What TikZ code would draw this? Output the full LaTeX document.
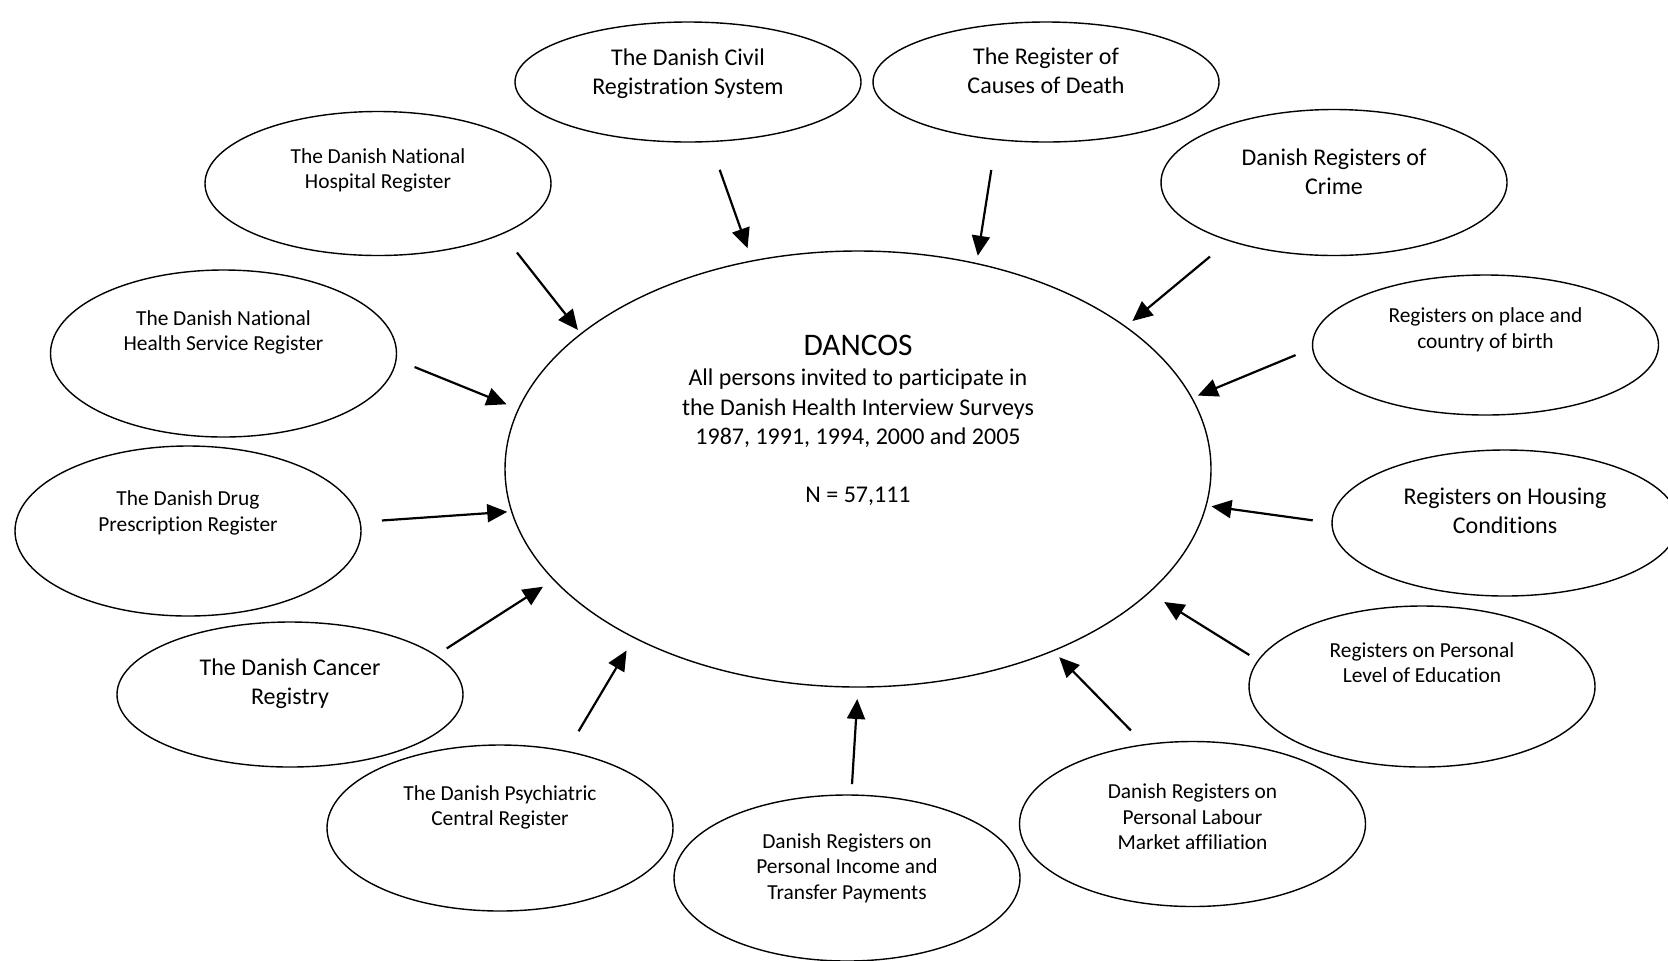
\documentclass[tikz,border=0pt]{standalone}
\usepackage{fontspec}
\setmainfont{Carlito}[Ligatures=NoCommon]
\usetikzlibrary{shapes.geometric,arrows.meta}

\newcommand{\smalltxt}{\fontsize{10.7}{12.8}\selectfont}
\newcommand{\bigtxt}{\fontsize{12}{14.4}\selectfont}

\begin{document}
\begin{tikzpicture}[x=0.5pt,y=-0.5pt,
  reg/.style={ellipse, draw, line width=0.7pt, inner sep=0pt, outer sep=0pt, minimum width=173pt},
  txt/.style={align=center, inner sep=0pt},
  arr/.style={line width=1.1pt, -{Triangle[length=10pt,width=9pt]}}]
\clip (0,0) rectangle (1668,960);

\node[reg, minimum width=353pt, minimum height=218pt,
  label={[txt, font=\fontsize{12}{14.6}\selectfont, yshift=24.25pt]center:{\fontsize{15.7}{16}\selectfont DANCOS}\\[0.5pt]
  All persons invited to participate in\\the Danish Health Interview Surveys\\1987, 1991, 1994, 2000 and 2005\\[14.6pt]N = 57,111}]
  (dancos) at (858,469) {};

\node[reg, minimum height=60pt, label={[txt, font=\bigtxt, yshift=4pt]center:The Danish Civil\\Registration System}] (civil) at (688,82) {};
\node[reg, minimum height=60pt, label={[txt, font=\bigtxt, yshift=5.5pt]center:The Register of\\Causes of Death}] (death) at (1046,82) {};
\node[reg, minimum height=72pt, label={[txt, font=\smalltxt, yshift=6.5pt]center:The Danish National\\Hospital Register}] (hosp) at (378,183.5) {};
\node[reg, minimum height=73pt, label={[txt, font=\bigtxt, yshift=5.5pt]center:Danish Registers of\\Crime}] (crime) at (1334,182.5) {};
\node[reg, minimum height=83.5pt, label={[txt, font=\smalltxt, yshift=10.5pt]center:The Danish National\\Health Service Register}] (health) at (223.5,353.5) {};
\node[reg, minimum height=70pt, label={[txt, font=\smalltxt, yshift=7.75pt]center:Registers on place and\\country of birth}] (birth) at (1485.5,345) {};
\node[reg, minimum height=85pt, label={[txt, font=\smalltxt, yshift=9pt]center:The Danish Drug\\Prescription Register}] (drug) at (188,531) {};
\node[reg, minimum height=73pt, label={[txt, font=\bigtxt, yshift=6pt]center:Registers on Housing\\Conditions}] (housing) at (1505,523) {};
\node[reg, minimum height=72.5pt, label={[txt, font=\bigtxt, yshift=5.25pt]center:The Danish Cancer\\Registry}] (cancer) at (290,694.5) {};
\node[reg, minimum height=80.5pt, label={[txt, font=\smalltxt, yshift=12pt]center:Registers on Personal\\Level of Education}] (educ) at (1422,686.5) {};
\node[reg, minimum height=83pt, label={[txt, font=\smalltxt, yshift=10.25pt]center:The Danish Psychiatric\\Central Register}] (psych) at (500,828) {};
\node[reg, minimum height=82.5pt, label={[txt, font=\smalltxt, yshift=3.5pt]center:Danish Registers on\\Personal Labour\\Market affiliation}] (labour) at (1192.5,824) {};
\node[reg, minimum height=83pt, label={[txt, font=\smalltxt, yshift=5pt]center:Danish Registers on\\Personal Income and\\Transfer Payments}] (income) at (847,878) {};

\foreach \n/\a/\b/\s/\t in {hosp/-22/154/12pt/2.5pt, civil/-70/117.8/15pt/6.75pt,
    death/-131/60.3/15.5pt/4pt, crime/-151/28.3/12.5pt/4.5pt,
    health/-2/170.2/10pt/6.5pt, birth/181.5/12/9.25pt/3.25pt,
    drug/3/-173.4/11pt/2.25pt, housing/180/-6.6/9.75pt/2.75pt,
    cancer/15.7/-160.9/6.5pt/6.5pt, educ/171.9/-23.3/5.25pt/9pt,
    psych/49.2/-143.7/11.75pt/7.5pt, labour/121.3/-43.8/10pt/4.5pt,
    income/87.7/-90/5.5pt/6pt}
  \draw[arr, shorten <=\s, shorten >=\t] (\n.\a) -- (dancos.\b);
\end{tikzpicture}
\end{document}
